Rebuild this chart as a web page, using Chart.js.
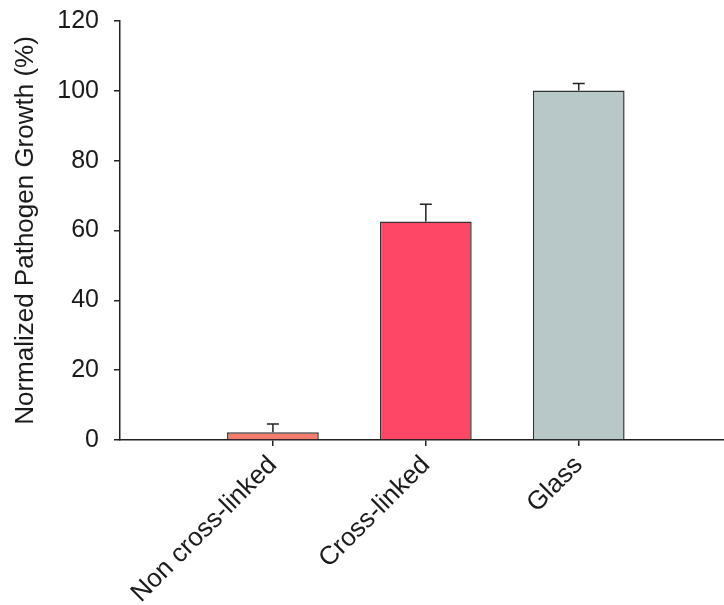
<!DOCTYPE html>
<html>
<head>
<meta charset="utf-8">
<script src="https://cdn.jsdelivr.net/npm/chart.js@4/dist/chart.umd.min.js"></script>
<style>
  html, body { margin: 0; padding: 0; background: #ffffff; }
  canvas { display: block; }
</style>
</head>
<body>
<canvas id="c" width="724" height="605"></canvas>
<script>
const categories = ['Non cross-linked', 'Cross-linked', 'Glass'];
const categoryPositions = [1, 2, 3];
const growthValues = [2.2, 62.6, 100.1];
const growthErrors = [2.4, 4.9, 2.0];
const yTickValues = [0, 20, 40, 60, 80, 100, 120];
const barColors = ['#F47C6E', '#FE4766', '#B8C8C8'];

const FONT = '"Liberation Sans", Arial, sans-serif';
const INK = '#1a1a1a';

const errorBarPlugin = {
  id: 'errorBars',
  afterDatasetsDraw(chart) {
    const { ctx, scales } = chart;
    const xs = scales.x, ys = scales.y;
    ctx.save();
    ctx.strokeStyle = '#222';
    ctx.lineWidth = 1.5;
    for (let i = 0; i < growthValues.length; i++) {
      const x = xs.getPixelForValue(categoryPositions[i]);
      const yBase = ys.getPixelForValue(growthValues[i]);
      const yTop = ys.getPixelForValue(growthValues[i] + growthErrors[i]);
      ctx.beginPath();
      ctx.moveTo(x, yBase);
      ctx.lineTo(x, yTop);
      ctx.moveTo(x - 6, yTop);
      ctx.lineTo(x + 6, yTop);
      ctx.stroke();
    }
    ctx.restore();
  }
};

new Chart(document.getElementById('c'), {
  type: 'bar',
  data: {
    datasets: [{
      data: categoryPositions.map((p, i) => ({ x: p, y: growthValues[i] })),
      backgroundColor: barColors,
      borderColor: '#333',
      borderWidth: 1.5,
      categoryPercentage: 1,
      barPercentage: 0.6
    }]
  },
  options: {
    responsive: false,
    animation: false,
    devicePixelRatio: 1,
    layout: { padding: { top: 21, right: 0, left: 0, bottom: 0 } },
    plugins: { legend: { display: false }, tooltip: { enabled: false } },
    scales: {
      x: {
        type: 'linear',
        offset: false,
        min: 0,
        max: 3.95,
        afterBuildTicks(scale) { scale.ticks = categoryPositions.map(v => ({ value: v })); },
        afterFit(scale) { scale.height = 165; scale.paddingTop = 0; scale.paddingLeft = 0; scale.paddingRight = 0; },
        grid: { display: true, offset: false, drawOnChartArea: false, drawTicks: true, tickLength: 6, color: '#222', lineWidth: 1.5 },
        border: { display: true, color: '#222', width: 1.5 },
        ticks: {
          autoSkip: false,
          minRotation: 45,
          maxRotation: 45,
          padding: 4,
          color: INK,
          font: { family: FONT, size: 26 },
          callback: (v) => categories[categoryPositions.indexOf(v)] ?? ''
        }
      },
      y: {
        min: 0,
        max: 120,
        afterBuildTicks(scale) { scale.ticks = yTickValues.map(v => ({ value: v })); },
        afterFit(scale) { scale.width = 120; scale.paddingTop = 0; scale.paddingBottom = 0; },
        grid: { display: true, drawOnChartArea: false, drawTicks: true, tickLength: 6, color: '#222', lineWidth: 1.5 },
        border: { display: true, color: '#222', width: 1.5 },
        ticks: {
          padding: 15,
          color: INK,
          font: { family: FONT, size: 25 }
        },
        title: {
          display: true,
          text: 'Normalized Pathogen Growth (%)',
          color: INK,
          font: { family: FONT, size: 26 },
          padding: { top: 10, bottom: 0 }
        }
      }
    }
  },
  plugins: [errorBarPlugin]
});
</script>
</body>
</html>
